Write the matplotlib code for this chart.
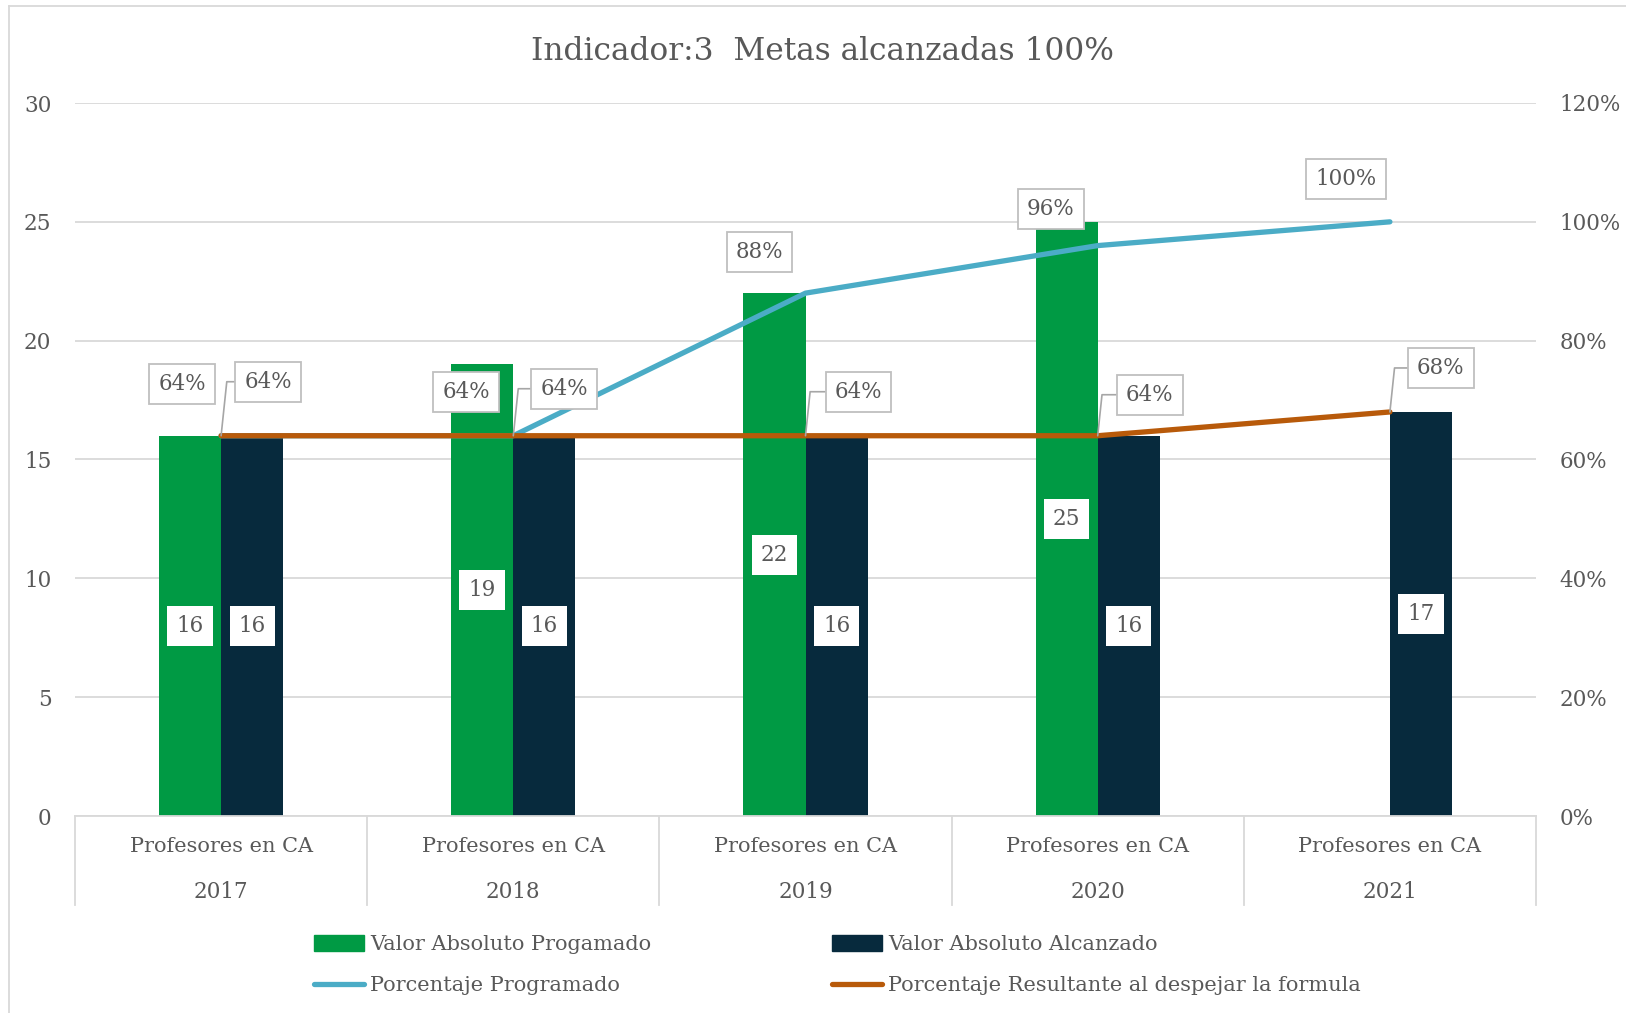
import numpy as np
import matplotlib
matplotlib.use("Agg")
import matplotlib.pyplot as plt
from matplotlib.patches import Patch
from matplotlib.lines import Line2D

# ---------------- data ----------------
categories = ["Profesores en CA"] * 5
years = ["2017", "2018", "2019", "2020", "2021"]
valor_programado = [16, 19, 22, 25, np.nan]
valor_alcanzado = [16, 16, 16, 16, 17]
pct_programado = [0.64, 0.64, 0.88, 0.96, 1.00]
pct_resultante = [0.64, 0.64, 0.64, 0.64, 0.68]
title = "Indicador:3  Metas alcanzadas 100%"
series_names = ["Valor Absoluto Progamado", "Valor Absoluto Alcanzado",
                "Porcentaje Programado", "Porcentaje Resultante al despejar la formula"]

# ---------------- style ----------------
GREEN = "#009A44"
NAVY = "#072A3D"
BLUE = "#4BACC6"
ORANGE = "#B85A0A"
TXT = "#595959"
GRID = "#D9D9D9"
FONT = "DejaVu Serif"
plt.rcParams["font.family"] = [FONT]

W, H = 1626, 1013
fig = plt.figure(figsize=(W / 100, H / 100), dpi=100)
left, right, top, bottom = 75, 1536, 103, 816
ax = fig.add_axes([left / W, 1 - bottom / H, (right - left) / W, (bottom - top) / H])
ax2 = ax.twinx()

x = np.arange(len(years))
bw = 0.2128
ax.bar(x - bw / 2, valor_programado, bw, color=GREEN, zorder=2)
ax.bar(x + bw / 2, valor_alcanzado, bw, color=NAVY, zorder=2)

ax.set_xlim(-0.5, len(years) - 0.5)
ax.set_ylim(0, 30)
ax.set_yticks(np.arange(0, 31, 5))
ax.yaxis.grid(True, color=GRID, lw=1.3, zorder=0)
ax.set_axisbelow(True)
ax.set_xticks([])
for s in ["top", "right", "left"]:
    ax.spines[s].set_visible(False)
ax.spines["bottom"].set_color(GRID)
ax.spines["bottom"].set_linewidth(1.3)
ax.tick_params(axis="y", length=0, pad=17, labelsize=15.5, labelcolor=TXT)

ax2.set_ylim(0, 1.2)
ax2.set_yticks(np.arange(0, 1.21, 0.2))
ax2.set_yticklabels([f"{int(round(v * 100))}%" for v in np.arange(0, 1.21, 0.2)])
ax2.tick_params(axis="y", length=0, pad=17, labelsize=15.5, labelcolor=TXT)
for s in ["top", "right", "left", "bottom"]:
    ax2.spines[s].set_visible(False)

ax2.plot(x, pct_programado, color=BLUE, lw=3.8, solid_capstyle="round", zorder=3)
ax2.plot(x, pct_resultante, color=ORANGE, lw=3.8, solid_capstyle="round", zorder=4)

# bar value labels
vbox = dict(boxstyle="square,pad=0.42", fc="white", ec="none")
for xi, v in zip(x, valor_programado):
    if not np.isnan(v):
        ax.text(xi - bw / 2, v / 2, f"{int(v)}", ha="center", va="center", fontsize=15.5,
                color=TXT, zorder=5, bbox=vbox)
for xi, v in zip(x, valor_alcanzado):
    ax.text(xi + bw / 2, v / 2, f"{int(v)}", ha="center", va="center", fontsize=15.5,
            color=TXT, zorder=5, bbox=vbox)

# percentage labels
blue_off = [(-39, 52), (-47, 44), (-46, 41), (-47, 37), (-44, 43)]
orange_off = [(47, 54), (51, 47), (53, 44), (52, 41), (51, 44)]
box = dict(boxstyle="square,pad=0.42", fc="white", ec="#BFBFBF", lw=1.3)
for xi, v, off in zip(x, pct_programado, blue_off):
    ax2.annotate(f"{int(round(v * 100))}%", (xi, v), xytext=off, textcoords="offset pixels",
                 ha="center", va="center", fontsize=15.5, color=TXT, bbox=box, zorder=6)
for xi, v, off in zip(x, pct_resultante, orange_off):
    ax2.annotate(f"{int(round(v * 100))}%", (xi, v), xytext=off, textcoords="offset pixels",
                 ha="center", va="center", fontsize=15.5, color=TXT, bbox=box, zorder=6,
                 arrowprops=dict(arrowstyle="-", color="#A6A6A6", lw=1.2,
                                 connectionstyle="angle,angleA=180,angleB=84,rad=0",
                                 shrinkA=0, shrinkB=0))

# multi-level category axis
for b in np.arange(-0.5, len(years), 1.0):
    ax.plot([b, b], [0, -(905 - bottom) / (bottom - top)], transform=ax.get_xaxis_transform(),
            color=GRID, lw=1.3, clip_on=False)
for xi, c, yr in zip(x, categories, years):
    ax.text(xi, -(846 - bottom) / (bottom - top), c, transform=ax.get_xaxis_transform(),
            ha="center", va="center", fontsize=15, color=TXT)
    ax.text(xi, -(892 - bottom) / (bottom - top), yr, transform=ax.get_xaxis_transform(),
            ha="center", va="center", fontsize=15.5, color=TXT)

# title
fig.text(822 / W, 1 - 51 / H, title, ha="center", va="center", fontsize=22.5, color=TXT)

# legend
handles = [Patch(color=GREEN, label=series_names[0]),
           Line2D([], [], color=BLUE, lw=3.8, solid_capstyle="round", label=series_names[2]),
           Patch(color=NAVY, label=series_names[1]),
           Line2D([], [], color=ORANGE, lw=3.8, solid_capstyle="round", label=series_names[3])]
leg = fig.legend(handles=handles, ncol=2, loc="center left",
                 bbox_to_anchor=(314 / W, 1 - 965 / H), frameon=False, fontsize=15,
                 labelcolor=TXT, handlelength=2.4, handleheight=0.8, handletextpad=0.3,
                 columnspacing=8.65, labelspacing=1.05, borderpad=0, borderaxespad=0)

# chart area border
fig.add_artist(Line2D([9 / W, 9 / W], [0, 1 - 6 / H], color=GRID, lw=1.3))
fig.add_artist(Line2D([9 / W, 1], [1 - 6 / H, 1 - 6 / H], color=GRID, lw=1.3))

fig.savefig("out.png", dpi=100)
